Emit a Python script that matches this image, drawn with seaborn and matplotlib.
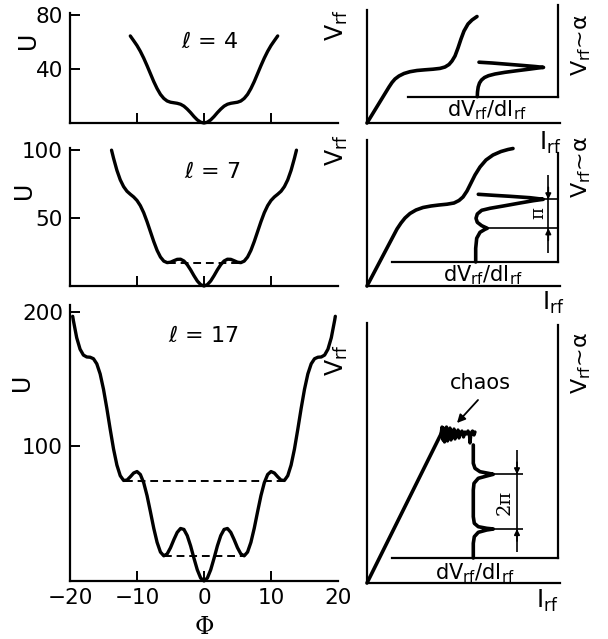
import numpy as np
import matplotlib
matplotlib.use("Agg")
import matplotlib.pyplot as plt
import seaborn as sns

# ---------------- potential U(Φ) for three loop inductances ----------------
phi_4 = np.arange(-11, 11.01, 0.5)
u_4 = [64.5, 61.0, 57.4, 53.1, 48.1, 42.5, 36.6, 30.7, 25.5, 21.2, 18.2, 16.3,
       15.4, 15.0, 14.6, 13.9, 12.5, 10.3, 7.7, 4.8, 2.3, 0.6, 0.0,
       0.6, 2.3, 4.8, 7.7, 10.3, 12.5, 13.9, 14.6, 15.0, 15.4, 16.3, 18.2,
       21.2, 25.5, 30.7, 36.6, 42.5, 48.1, 53.1, 57.4, 61.0, 64.5]

phi_7 = np.concatenate(([-13.8], np.arange(-13.5, 13.51, 0.5), [13.8]))
u_7 = [99.9, 94.0, 85.1, 78.1, 73.1, 69.7, 67.5, 65.5, 62.9, 59.1, 53.9, 47.3,
       40.0, 32.7, 26.2, 21.3, 18.3, 17.2, 17.5, 18.6, 19.6, 19.7, 18.4, 15.7,
       11.9, 7.6, 3.7, 1.0, 0.0,
       1.0, 3.7, 7.6, 11.9, 15.7, 18.4, 19.7, 19.6, 18.6, 17.5, 17.2, 18.3,
       21.3, 26.2, 32.7, 40.0, 47.3, 53.9, 59.1, 62.9, 65.5, 67.5, 69.7, 73.1,
       78.1, 85.1, 94.0, 99.9]

phi_17 = np.concatenate(([-19.6], np.arange(-19.5, 19.51, 0.5), [19.6]))
u_17 = [196.6, 193.6, 180.7, 172.2, 167.8, 166.4, 166.2, 165.1, 161.3, 153.8,
        142.4, 128.2, 112.7, 98.0, 86.1, 78.2, 74.7, 74.9, 77.4, 80.2, 81.3,
        79.1, 73.0, 63.4, 51.5, 39.2, 28.7, 21.5, 18.7, 20.1, 24.7, 30.7, 36.1,
        39.0, 38.3, 33.7, 26.1, 16.9, 8.3, 2.2, 0.0,
        2.2, 8.3, 16.9, 26.1, 33.7, 38.3, 39.0, 36.1, 30.7, 24.7, 20.1, 18.7,
        21.5, 28.7, 39.2, 51.5, 63.4, 73.0, 79.1, 81.3, 80.2, 77.4, 74.9, 74.7,
        78.2, 86.1, 98.0, 112.7, 128.2, 142.4, 153.8, 161.3, 165.1, 166.2,
        166.4, 167.8, 172.2, 180.7, 193.6, 196.6]

# metastable levels: (U, Φ_left, Φ_right)
levels_7 = [(17.1, -5.4, 5.4)]
levels_17 = [(18.6, -5.93, 5.93), (74.4, -11.8, 11.8)]

ell_labels = ["4", "7", "17"]
u_ticks = [[40, 80], [50, 100], [100, 200]]
u_top = [81.5, 101.5, 205]
phi_ticks = [-20, -10, 0, 10, 20]

# ---------------- rf I-V curves (arbitrary units) ----------------
i_rf_a = [0, 22, 25, 28, 32, 37, 43, 50, 58, 66, 73, 78, 82, 85, 88, 91, 94, 97, 101, 105, 110]
v_rf_a = [0, 36, 40.5, 44, 47, 49.5, 51.3, 52.5, 53.2, 53.8, 54.6, 56, 58.5, 62, 67, 75, 84, 92, 99, 103, 106.5]
di_a = [110.3, 110.5, 111.2, 112.5, 114.5, 117.5, 121.5, 128, 138, 150, 162, 171, 176.5, 168, 155, 140, 125, 112]
dv_a = [26.3, 31, 36, 40, 43, 45.5, 47.3, 49, 50.7, 52.3, 53.8, 55, 55.6, 56.5, 57.6, 58.8, 60, 60.8]

i_rf_b = [0, 30, 34, 38, 43, 49, 56, 64, 72, 80, 87, 92, 96, 100, 104, 108, 113, 119, 126, 134, 141, 146]
v_rf_b = [0, 57, 63, 68, 72.5, 76, 78.5, 80, 81, 81.8, 83, 85.5, 89, 95, 103, 111, 119, 126, 131, 134.5, 136.5, 137.5]
di_b = [108.7, 108.7, 109.7, 113, 118, 120.3, 114.7, 110.3, 109, 110.3, 114.7, 123, 136.3, 153, 166.3, 176.3, 163, 143, 126.3, 111.3]
dv_b = [24, 37.7, 47.7, 53.7, 56.7, 57.7, 60.3, 63.7, 67.7, 72, 75.7, 77.7, 80, 83, 85.3, 86.7, 88.3, 89.7, 90.7, 91.7]
marks_b = [57.7, 86.7]          # dips separated by π
marks_b_start = [120.3, 176.3]

i_rf_c = [0, 75]
v_rf_c = [0, 151]
chaos_i = [74, 75, 76, 76.5, 77.5, 78, 79, 79.5, 80.5, 81, 82, 83, 84, 85, 86, 87,
           88, 89, 90, 91, 92, 93.5, 95, 96.5, 98, 99.5, 101, 102.5, 103, 104, 105.5, 107, 108]
chaos_v = [149, 156, 143, 155, 141, 154, 144, 156, 142, 153, 146, 155, 143, 152, 147, 154,
           144, 151, 148, 153, 145, 150, 152, 146, 151, 149, 152, 147, 140, 150, 152, 148, 151]
di_c = [106.3, 106.3, 108, 113, 121.3, 126.3, 119.7, 111.3, 107, 106.3, 106.3, 107.3, 111.3, 119.7, 126.3, 119.7, 111.3, 107.3, 106.3, 106.3]
dv_c = [138, 119.7, 114.7, 111.3, 109.7, 108.7, 107, 104.7, 99.7, 93, 66.3, 59.7, 56.3, 54.7, 54, 53, 50.7, 46.3, 39.7, 25]
marks_c = [54, 108.7]           # dips separated by 2π
marks_c_start = [126.3, 126.3]

# ---------------- figure ----------------
sns.set_theme(style="ticks")
plt.rcParams.update({
    "font.family": ["DejaVu Sans"],
    "axes.linewidth": 1.6,
    "xtick.direction": "in",
    "ytick.direction": "in",
    "xtick.major.size": 7,
    "ytick.major.size": 7,
    "xtick.major.width": 1.4,
    "ytick.major.width": 1.4,
    "xtick.labelsize": 15.5,
    "ytick.labelsize": 15.5,
    "axes.edgecolor": "black",
    "xtick.color": "black",
    "ytick.color": "black",
})

W, H = 608, 639
fig = plt.figure(figsize=(W / 100, H / 100), dpi=100)


def box(left, top, right, bottom):
    return [left / W, 1 - bottom / H, (right - left) / W, (bottom - top) / H]


def label(x, y, s, **kw):
    fig.text(x / W, 1 - y / H, s, ha="center", va="center", color="black", **kw)


# left column: potentials
left_boxes = [box(70, 13, 338, 123), box(70, 148, 338, 286), box(70, 305, 338, 581)]
curves = [(phi_4, u_4, []), (phi_7, u_7, levels_7), (phi_17, u_17, levels_17)]
for k, (bx, (phi, u, levels)) in enumerate(zip(left_boxes, curves)):
    ax = fig.add_axes(bx)
    sns.lineplot(x=phi, y=u, ax=ax, color="black", lw=2.4, clip_on=False)
    for lev, a, b in levels:
        ax.hlines(lev, a, b, colors="black", linestyles=(0, (4, 2.5)), lw=1.4)
    ax.set_xlim(-20, 20)
    ax.set_ylim(0, u_top[k])
    ax.set_yticks(u_ticks[k])
    ax.set_xticks(phi_ticks)
    sns.despine(ax=ax)
    ax.tick_params(pad=5)
    for t in (ax.xaxis.get_major_ticks()[0], ax.xaxis.get_major_ticks()[-1]):
        t.tick1line.set_visible(False)
    if k < 2:
        ax.set_xticklabels([])
    ax.set_xlabel("")
    ax.set_ylabel("")

for (x, y), s in zip([(210, 42), (212, 172), (203, 336)], ell_labels):
    label(x, y, r"$\ell$ = " + s, fontsize=16)
for x, y in [(28, 40), (24, 190), (22, 382)]:
    label(x, y, "U", fontsize=17, rotation=90)
label(204, 628, "Φ", fontsize=17, family="DejaVu Serif")

# right column: rf I-V characteristics with dV/dI insets
main_boxes = [box(367, 10, 560, 123), box(367, 140, 560, 286), box(367, 323, 560, 583)]
inset_boxes = [box(408, 5, 558, 97), box(392, 153, 558, 262), box(392, 325, 558, 558)]
main_lims = [113, 146, 260]
inset_lims = [((41, 191), (26, 118)), ((25, 191), (24, 133)), ((25, 191), (25, 258))]
iv = [(i_rf_a, v_rf_a), (i_rf_b, v_rf_b), (i_rf_c, v_rf_c)]
dvdi = [(di_a, dv_a), (di_b, dv_b), (di_c, dv_c)]

insets = []
mains = []
for k in range(3):
    ax = fig.add_axes(main_boxes[k])
    ax.set_xlim(0, 193)
    ax.set_ylim(0, main_lims[k])
    sns.lineplot(x=iv[k][0], y=iv[k][1], ax=ax, sort=False, estimator=None,
                 color="black", lw=2.6, clip_on=False)
    sns.despine(ax=ax)
    ax.set_xticks([])
    ax.set_yticks([])
    ax.set_xlabel("")
    ax.set_ylabel("")
    mains.append(ax)

    ins = fig.add_axes(inset_boxes[k])
    ins.patch.set_alpha(0)
    ins.set_xlim(*inset_lims[k][0])
    ins.set_ylim(*inset_lims[k][1])
    sns.lineplot(x=dvdi[k][0], y=dvdi[k][1], ax=ins, sort=False, estimator=None,
                 color="black", lw=2.6, clip_on=False)
    for side in ("left", "top"):
        ins.spines[side].set_visible(False)
    ins.set_xticks([])
    ins.set_yticks([])
    ins.set_xlabel("")
    ins.set_ylabel("")
    insets.append(ins)

# chaotic segment at the top of the linear branch
sns.lineplot(x=chaos_i, y=chaos_v, ax=mains[2], sort=False, estimator=None,
             color="black", lw=2.4, clip_on=False)
mains[2].annotate("", xy=(90, 160), xytext=(111, 183),
                  arrowprops=dict(arrowstyle="-|>", color="black", lw=1.3,
                                  mutation_scale=12, shrinkA=0, shrinkB=0))


def dimension(ax, marks, starts, x_end, x_bar, y_lo, y_hi):
    for m, s in zip(marks, starts):
        ax.hlines(m, s, x_end, colors="black", lw=1.2, clip_on=False)
    ax.vlines(x_bar, y_lo, y_hi, colors="black", lw=1.2, clip_on=False)
    style = dict(arrowstyle="-|>", color="black", lw=1.2, mutation_scale=8,
                 shrinkA=0, shrinkB=0)
    ax.annotate("", xy=(x_bar, marks[1]), xytext=(x_bar, marks[1] + 12), arrowprops=style)
    ax.annotate("", xy=(x_bar, marks[0]), xytext=(x_bar, marks[0] - 12), arrowprops=style)


dimension(insets[1], marks_b, marks_b_start, 191, 181.3, 33, 111)
dimension(insets[2], marks_c, marks_c_start, 156, 150, 31, 133)

vrf = r"V$_{\rm rf}$"
for x, y in [(337, 25), (337, 150), (337, 360)]:
    label(x, y, vrf, fontsize=17, rotation=90)
for x, y in [(581, 45), (581, 167), (581, 363)]:
    label(x, y, vrf + "~α", fontsize=16, rotation=90)
for x, y in [(550, 143), (553, 303), (547, 601)]:
    label(x, y, r"I$_{\rm rf}$", fontsize=17)
for x, y in [(487, 110), (483, 275), (475, 573)]:
    label(x, y, r"dV$_{\rm rf}$/dI$_{\rm rf}$", fontsize=15)
label(538, 213, "π", fontsize=13, rotation=90, family="DejaVu Serif")
label(505, 502, "2π", fontsize=14, rotation=90, family="DejaVu Serif")
label(480, 383, "chaos", fontsize=15)

fig.savefig("out.png", dpi=100)
